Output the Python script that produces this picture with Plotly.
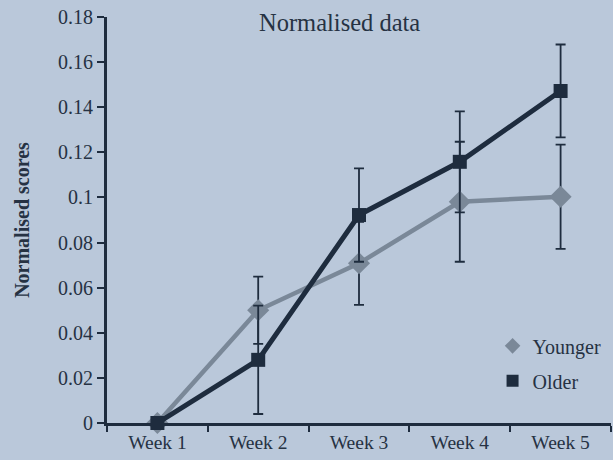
import plotly.graph_objects as go

weeks = ["Week 1", "Week 2", "Week 3", "Week 4", "Week 5"]
younger = [0.0, 0.050, 0.0708, 0.0981, 0.1003]
younger_err = [0.0, 0.0149, 0.0184, 0.0266, 0.0231]
older = [0.0, 0.028, 0.0922, 0.1158, 0.1472]
older_err = [0.0, 0.024, 0.0207, 0.0224, 0.0206]
ytick_vals = [0, 0.02, 0.04, 0.06, 0.08, 0.1, 0.12, 0.14, 0.16, 0.18]
ytick_text = ["0", "0.02", "0.04", "0.06", "0.08", "0.1", "0.12", "0.14", "0.16", "0.18"]

BG = "#bac8da"
DARK = "#1e2c3e"
GREY = "#7a8898"
TXT = "#263243"
FONT = "Liberation Serif"

fig = go.Figure()
fig.add_trace(go.Scatter(
    x=weeks, y=younger, name="Younger", mode="lines+markers", showlegend=False,
    line=dict(color=GREY, width=4.5),
    marker=dict(symbol="diamond", size=17, color=GREY),
    error_y=dict(type="data", array=younger_err, color=DARK, thickness=1.8, width=5),
    cliponaxis=False,
))
fig.add_trace(go.Scatter(
    x=weeks, y=older, name="Older", mode="lines+markers", showlegend=False,
    line=dict(color=DARK, width=5),
    marker=dict(symbol="square", size=14, color=DARK),
    error_y=dict(type="data", array=older_err, color=DARK, thickness=1.8, width=5),
    cliponaxis=False,
))
# legend-only entries (marker only, as in the reference)
fig.add_trace(go.Scatter(x=[None], y=[None], name="Younger", mode="markers", legendgroup="y",
                         marker=dict(symbol="diamond", size=17, color=GREY)))
fig.add_trace(go.Scatter(x=[None], y=[None], name="Older", mode="markers", legendgroup="o",
                         marker=dict(symbol="square", size=15, color=DARK)))

pw = 613 - 107 - 2
ph = 460 - 17 - 37

fig.update_layout(
    width=613, height=460,
    paper_bgcolor=BG, plot_bgcolor=BG,
    margin=dict(l=107, r=2, t=17, b=37),
    font=dict(family=FONT, color=TXT, size=18),
    showlegend=True,
    legend=dict(x=0.765, y=0.238, xanchor="left", yanchor="top",
                bgcolor="rgba(0,0,0,0)", font=dict(size=20, family=FONT, color=TXT),
                traceorder="grouped", tracegroupgap=6, itemsizing="constant"),
    annotations=[dict(text="Normalised data", x=(339 - 107) / pw, y=(460 - 37 - 22) / ph,
                      xref="paper", yref="paper",
                      xanchor="center", yanchor="middle", showarrow=False,
                      font=dict(size=24.5, family=FONT, color=TXT))],
)

fig.update_xaxes(
    type="category", range=[-0.5, 4.5], showline=True, linecolor=DARK, linewidth=3,
    ticks="outside", tickson="boundaries", ticklen=6, tickwidth=2, tickcolor=DARK,
    showgrid=False, zeroline=False, automargin=False,
    tickfont=dict(size=19.5, family=FONT, color=TXT),
)
fig.update_yaxes(
    range=[0, 0.18], tickvals=ytick_vals, ticktext=ytick_text,
    showline=True, linecolor=DARK, linewidth=3, automargin=False,
    ticks="outside", ticklen=7, tickwidth=2, tickcolor=DARK, ticksuffix="\u2002",
    showgrid=False, zeroline=False, tickfont=dict(size=20, family=FONT, color=TXT),
    title=dict(text="<b>Normalised scores</b>", font=dict(size=20, family=FONT, color=TXT), standoff=24),
)

fig.write_html("out.html", config={"displayModeBar": False},
               post_script="document.body.style.margin='0';document.body.style.overflow='hidden';")
